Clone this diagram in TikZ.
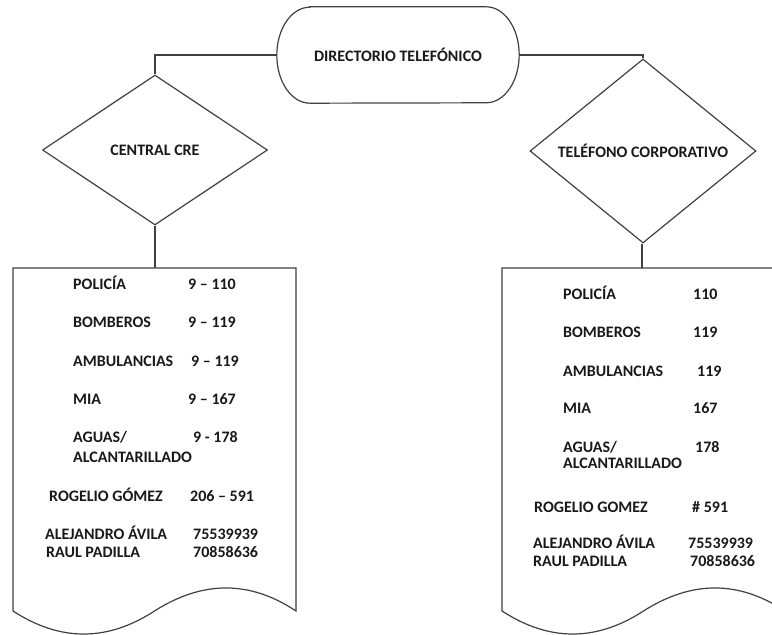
\documentclass[tikz,border=0pt]{standalone}
\usepackage{fontspec}
\setmainfont{Carlito}
\usetikzlibrary{shapes.geometric}
\definecolor{linec}{gray}{0.25}
\definecolor{textc}{gray}{0.1}
\newcommand{\lblfont}{\bfseries\fontsize{16}{19}\selectfont}
\tikzset{
  lbl/.style={anchor=base west, inner sep=0pt, text=textc, font=\lblfont},
  conn/.style={draw=linec, line width=1.2pt},
  decision/.style={diamond, draw=linec, line width=1.2pt, inner sep=0pt, text=textc, font=\lblfont},
  termbox/.style={rectangle, draw=none, inner sep=0pt, minimum width=242pt, minimum height=96pt, text=textc, font=\lblfont}
}
\begin{document}
\begin{tikzpicture}[x=1pt,y=1pt]
\useasboundingbox (0,0) rectangle (772,635);
\clip (0,0) rectangle (772,635);
% terminator
\node[termbox] (dir) at (398,580) {DIRECTORIO TELEF\'ONICO};
\draw[conn] ([xshift=33pt]dir.north west) -- ([xshift=-33pt]dir.north east)
  arc[start angle=90, end angle=-90, x radius=33pt, y radius=48pt]
  -- ([xshift=33pt]dir.south west)
  arc[start angle=270, end angle=90, x radius=33pt, y radius=48pt] -- cycle;
% decisions
\node[decision, minimum width=225pt, minimum height=150pt] (cre) at (155,485) {CENTRAL CRE};
\node[decision, minimum width=226pt, minimum height=148pt] (corp) at (643,484) {TEL\'EFONO CORPORATIVO};
% documents
\foreach \dx in {0,489}{
  \draw[conn] (13+\dx,367) -- (296+\dx,367) -- (296+\dx,24)
    .. controls (249.8+\dx,54.7) and (202.7+\dx,54.7) .. (154.5+\dx,24)
    .. controls (107.3+\dx,-6.7) and (60.2+\dx,-6.7) .. (13+\dx,24) -- cycle;
}
\coordinate (ldoc) at (155,367);
\coordinate (rdoc) at (642,367);
% connectors
\draw[conn] (dir.west) -| (cre.north);
\draw[conn] (dir.east) -| (corp.north);
\draw[conn] (cre.south) -- (ldoc);
\draw[conn] (corp.south -| rdoc) -- (rdoc);
% left document texts
\node[lbl] (a1) at (73,345) {POLIC\'IA};
\node[lbl] (a1n) at (188,345) {9 -- 110};
\node[lbl] (a2) at (73,307) {BOMBEROS};
\node[lbl] (a2n) at (188,307) {9 -- 119};
\node[lbl] (a3) at (73,268) {AMBULANCIAS};
\node[lbl] (a3n) at (191,268) {9 -- 119};
\node[lbl] (a4) at (73,230) {MIA};
\node[lbl] (a4n) at (188,230) {9 -- 167};
\node[lbl] (a5) at (73,192) {AGUAS/};
\node[lbl] (a5b) at (73,172) {ALCANTARILLADO};
\node[lbl] (a5n) at (193,192) {9 - 178};
\node[lbl] (a6) at (49,133) {ROGELIO G\'OMEZ};
\node[lbl] (a6n) at (190,133) {206 -- 591};
\node[lbl] (a7) at (45,95) {ALEJANDRO \'AVILA};
\node[lbl] (a7n) at (193,95) {75539939};
\node[lbl] (a8) at (46,77) {RAUL PADILLA};
\node[lbl] (a8n) at (193,77) {70858636};
% right document texts
\node[lbl] (b1) at (563,335) {POLIC\'IA};
\node[lbl] (b1n) at (693,335) {110};
\node[lbl] (b2) at (563,297) {BOMBEROS};
\node[lbl] (b2n) at (693,297) {119};
\node[lbl] (b3) at (563,258) {AMBULANCIAS};
\node[lbl] (b3n) at (697,258) {119};
\node[lbl] (b4) at (563,221) {MIA};
\node[lbl] (b4n) at (693,221) {167};
\node[lbl] (b5) at (563,182) {AGUAS/};
\node[lbl] (b5b) at (563,166) {ALCANTARILLADO};
\node[lbl] (b5n) at (695,182) {178};
\node[lbl] (b6) at (534,122) {ROGELIO GOMEZ};
\node[lbl] (b6n) at (692,122) {\# 591};
\node[lbl] (b7) at (533,86) {ALEJANDRO \'AVILA};
\node[lbl] (b7n) at (688,86) {75539939};
\node[lbl] (b8) at (533,68) {RAUL PADILLA};
\node[lbl] (b8n) at (690,68) {70858636};
\end{tikzpicture}
\end{document}
